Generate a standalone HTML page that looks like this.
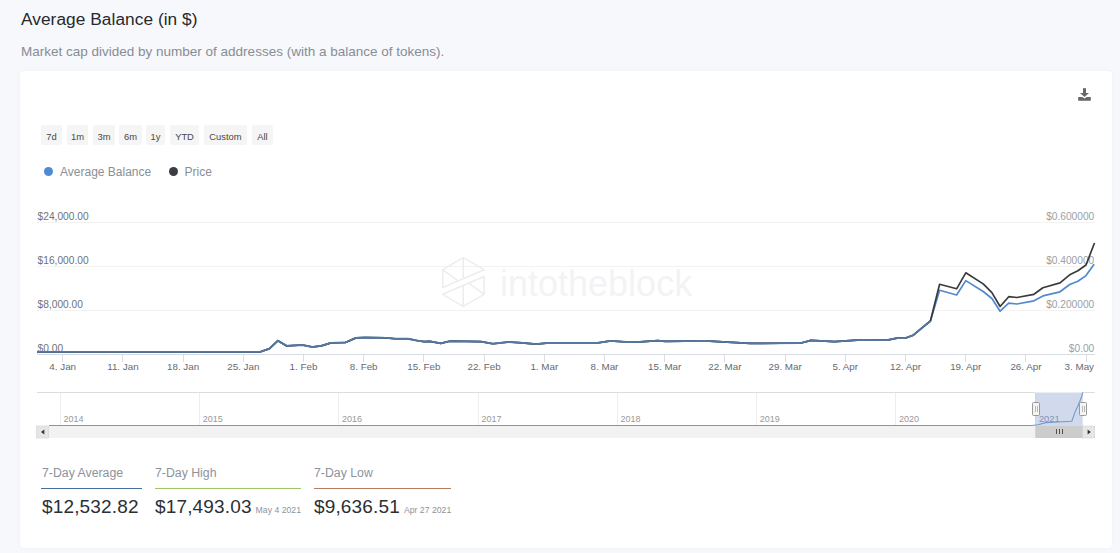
<!DOCTYPE html>
<html><head><meta charset="utf-8">
<style>
html,body{margin:0;padding:0;}
body{width:1120px;height:553px;background:#f7f8fb;position:relative;overflow:hidden;font-family:"Liberation Sans",sans-serif;}
.title{position:absolute;left:21px;top:8.5px;font-size:17.3px;color:#26292d;letter-spacing:0.05px;white-space:nowrap;}
.sub{position:absolute;left:21px;top:44px;font-size:13.5px;color:#878d95;white-space:nowrap;}
.card{position:absolute;left:20px;top:71px;width:1092px;height:477px;background:#fff;border-radius:4px;box-shadow:0 0 4px rgba(0,0,0,0.035);}
svg{position:absolute;left:0;top:0;}
.btn{position:absolute;top:125px;height:18px;padding-top:2px;background:#f5f5f5;border-radius:2px;font-size:9.4px;color:#484848;line-height:20px;text-align:center;}
.leg{position:absolute;top:163.5px;font-size:12px;color:#8a8f96;white-space:nowrap;line-height:16px;}
.dot{position:absolute;width:9px;height:9px;border-radius:50%;}
.stat{position:absolute;top:462px;}
.slab{position:absolute;top:3.5px;font-size:12.3px;color:#8d939b;white-space:nowrap;}
.sline{position:absolute;top:26px;height:1px;}
.sval{position:absolute;top:34px;font-size:19px;color:#2b3035;white-space:nowrap;letter-spacing:0.15px;}
.sdate{font-size:8.7px;color:#8d939b;letter-spacing:0;margin-left:4px;}
</style></head><body>
<div class="title">Average Balance (in $)</div>
<div class="sub">Market cap divided by number of addresses (with a balance of tokens).</div>
<div class="card"></div>
<div class="btn" style="left:41px;width:21px">7d</div>
<div class="btn" style="left:67px;width:21px">1m</div>
<div class="btn" style="left:93px;width:22px">3m</div>
<div class="btn" style="left:119px;width:23px">6m</div>
<div class="btn" style="left:146px;width:19px">1y</div>
<div class="btn" style="left:170px;width:29px">YTD</div>
<div class="btn" style="left:204px;width:43px">Custom</div>
<div class="btn" style="left:252px;width:21px">All</div>
<div class="dot" style="left:43.5px;top:166.5px;background:#4f8ad2"></div>
<div class="leg" style="left:60px">Average Balance</div>
<div class="dot" style="left:168.5px;top:166.5px;background:#3c3d42"></div>
<div class="leg" style="left:184.5px">Price</div>
<svg width="1120" height="553" viewBox="0 0 1120 553" font-family="Liberation Sans, sans-serif">
 <g stroke="#f2f2f2" stroke-width="1" fill="none"><path d="M37 222.5H1094.6M37 266.5H1094.6M37 310.5H1094.6"/></g>
 <g fill="#f0f0f2" stroke="none" opacity="1">
  <text x="500" y="296.3" font-size="36" fill="#f3f3f5">intotheblock</text>
 </g>
 <g fill="none" stroke="#ededef" stroke-width="1.5" stroke-linejoin="round">
  <path d="M442.7 269.7 L463.2 257.7 L484.1 269.7 L442.7 287.5 Z M463.2 257.7 V278.7 M442.7 269.7 L458 280.9 M484.1 294.3 L463.2 306.3 L442.7 294.3 L484.1 276.5 Z M463.2 306.3 V285.3 M484.1 294.3 L468.8 283.1"/>
 </g>
 <path d="M37 354.5H1094.6" stroke="#d8dce3" stroke-width="1"/>
 <path d="M62.5 354V362M122.5 354V362M183.5 354V362M243.5 354V362M303.5 354V362M363.5 354V362M423.5 354V362M484.5 354V362M544.5 354V362M604.5 354V362M664.5 354V362M724.5 354V362M785.5 354V362M845.5 354V362M905.5 354V362M965.5 354V362M1025.5 354V362M1086.5 354V362" stroke="#dadde2" stroke-width="1"/>
 <g font-size="10.2" fill="#6e7278">
  <text x="37.6" y="220">$24,000.00</text>
  <text x="37.6" y="264">$16,000.00</text>
  <text x="37.6" y="308">$8,000.00</text>
  <text x="37.6" y="352">$0.00</text>
 </g>
 <g font-size="10.2" fill="#9aa0a6" text-anchor="end">
  <text x="1094.3" y="220">$0.600000</text>
  <text x="1094.3" y="264">$0.400000</text>
  <text x="1094.3" y="308">$0.200000</text>
  <text x="1094.3" y="352">$0.00</text>
 </g>
 <g font-size="9.8" fill="#666a70">
<text x="62.7" y="369.8" text-anchor="middle">4. Jan</text>
<text x="122.9" y="369.8" text-anchor="middle">11. Jan</text>
<text x="183.1" y="369.8" text-anchor="middle">18. Jan</text>
<text x="243.3" y="369.8" text-anchor="middle">25. Jan</text>
<text x="303.5" y="369.8" text-anchor="middle">1. Feb</text>
<text x="363.7" y="369.8" text-anchor="middle">8. Feb</text>
<text x="423.9" y="369.8" text-anchor="middle">15. Feb</text>
<text x="484.1" y="369.8" text-anchor="middle">22. Feb</text>
<text x="544.3" y="369.8" text-anchor="middle">1. Mar</text>
<text x="604.5" y="369.8" text-anchor="middle">8. Mar</text>
<text x="664.7" y="369.8" text-anchor="middle">15. Mar</text>
<text x="724.9" y="369.8" text-anchor="middle">22. Mar</text>
<text x="785.1" y="369.8" text-anchor="middle">29. Mar</text>
<text x="845.3" y="369.8" text-anchor="middle">5. Apr</text>
<text x="905.5" y="369.8" text-anchor="middle">12. Apr</text>
<text x="965.7" y="369.8" text-anchor="middle">19. Apr</text>
<text x="1025.9" y="369.8" text-anchor="middle">26. Apr</text>
<text x="1094" y="369.8" text-anchor="end">3. May</text>

 </g>
 <polyline points="37,351.8 260.5,351.8 269.5,348.6 277.9,340.7 286.8,345.9 302.5,345 312.3,347 321.25,345.9 331,342.9 345.4,342.5 356,337.9 365,337.5 386.4,337.9 395,338.75 407.9,338.75 416.8,340.5 424,341.6 430,341.4 440.8,343.4 449.6,341.2 481,341.6 492.9,343.75 508.6,342 522.3,342.8 536,344.1 547.9,343 597,343 610.7,340.8 626.5,342 640,341.8 657.7,340.6 665.5,341.4 704.8,340.8 750,343.4 801,343 811,340.4 834.5,341.6 861.2,339.8 887.2,340.1 897,338.2 905.1,338.2 913.3,335.2 921.4,328.4 930.4,321 939.6,290.3 956.6,295 965.8,280.6 983.2,291.5 991.9,298.5 1000.1,311.2 1008.7,303.2 1016.9,304 1033.9,300.8 1042.9,295.9 1060,291.8 1069.7,284.5 1077.9,281.3 1086,275.6 1094.1,264.2" fill="none" stroke="#5189cc" stroke-width="1.7" stroke-linejoin="round"/>
 <polyline points="37,351.8 260.5,351.8 269.5,348.6 277.9,340.7 286.8,345.9 302.5,345 312.3,347 321.25,345.9 331,342.9 345.4,342.5 356,337.9 365,337.5 386.4,337.9 395,338.75 407.9,338.75 416.8,340.5 424,341.6 430,341.4 440.8,343.4 449.6,341.2 481,341.6 492.9,343.75 508.6,342 522.3,342.8 536,344.1 547.9,343 597,343 610.7,340.8 626.5,342 640,341.8 657.7,340.6 665.5,341.4 704.8,340.8 750,343.4 801,343 811,340.4 834.5,341.6 861.2,339.8 887.2,340.1 897,338.2 905.1,338.2 913.3,335.2 921.4,328.4 930.4,321 939.6,284.3 956.6,288.8 965.8,272.8 983.2,283.9 991.9,292.6 1000.1,306.5 1008.7,296.7 1016.9,297.5 1033.9,294.3 1042.9,287.8 1060,282.9 1069.7,274.8 1077.9,270.7 1086,265 1094.5,243" fill="none" stroke="#3a3b3f" stroke-width="1.7" stroke-linejoin="round"/>
 <polyline points="37,351.8 260.5,351.8 269.5,348.6 277.9,340.7 286.8,345.9 302.5,345 312.3,347 321.25,345.9 331,342.9 345.4,342.5 356,337.9 365,337.5 386.4,337.9 395,338.75 407.9,338.75 416.8,340.5 424,341.6 430,341.4 440.8,343.4 449.6,341.2 481,341.6 492.9,343.75 508.6,342 522.3,342.8 536,344.1 547.9,343 597,343 610.7,340.8 626.5,342 640,341.8 657.7,340.6 665.5,341.4 704.8,340.8 750,343.4 801,343 811,340.4 834.5,341.6 861.2,339.8 887.2,340.1 897,338.2 905.1,338.2 913.3,335.2 921.4,328.4 930.4,321" fill="none" stroke="#56789f" stroke-width="1.8" stroke-linejoin="round"/>
 <!-- navigator -->
 <path d="M37 392.5H1035.2M1082.7 392.5H1094.6" stroke="#dcdcdc" stroke-width="1"/>
 <path d="M60.5 393V426M199.5 393V426M338.5 393V426M478.5 393V426M617.5 393V426M756.5 393V426M895.5 393V426M1035.5 393V426" stroke="#eeeeee" stroke-width="1"/>
 <g font-size="9" fill="#999">
<text x="63.6" y="421.8">2014</text>
<text x="202.8" y="421.8">2015</text>
<text x="341.9" y="421.8">2016</text>
<text x="481.5" y="421.8">2017</text>
<text x="620.6" y="421.8">2018</text>
<text x="759.8" y="421.8">2019</text>
<text x="899.0" y="421.8">2020</text>
<text x="1038.9" y="421.8" font-size="9.4" fill="#8c9ab3">2021</text>

 </g>
 <rect x="1035.2" y="392.5" width="47.5" height="33.5" fill="rgba(102,133,194,0.3)"/>
 <polyline points="49,425.5 1031.7,425.5 1038,424.8 1045.8,422.6 1057.7,422 1071.8,421.2 1075,412.1 1078.3,405 1081.6,397 1082.7,392.4" fill="none" stroke="#7399c9" stroke-width="1.1"/>
 <rect x="37" y="426" width="1057.6" height="12" fill="#f2f2f2"/>
 <rect x="1035.2" y="426" width="47.5" height="12" fill="#cccccc"/>
 <rect x="36.5" y="426" width="12" height="12" fill="#e6e6e6" stroke="#cccccc" stroke-width="0.5"/>
 <rect x="1082.7" y="426" width="12" height="12" fill="#e6e6e6" stroke="#cccccc" stroke-width="0.5"/>
 <path d="M44.3 429.5 L41 432 L44.3 434.5 Z" fill="#333"/>
 <path d="M1087.6 429.5 L1090.9 432 L1087.6 434.5 Z" fill="#333"/>
 <path d="M1056.5 429V434M1059.5 429V434M1062.5 429V434" stroke="#444" stroke-width="0.9"/>
 <rect x="1032.5" y="402.5" width="7" height="13" rx="1" fill="#f4f4f4" stroke="#9a9a9a" stroke-width="1"/>
 <path d="M1035.5 406V412M1037.5 406V412" stroke="#aaa" stroke-width="0.8"/>
 <rect x="1079.5" y="402.5" width="7" height="13" rx="1" fill="#f4f4f4" stroke="#9a9a9a" stroke-width="1"/>
 <path d="M1082.5 406V412M1084.5 406V412" stroke="#aaa" stroke-width="0.8"/>
 <!-- download icon -->
 <g fill="#676767">
  <rect x="1083" y="88.2" width="3" height="5.2"/>
  <path d="M1080 93 L1089 93 L1084.5 97 Z"/>
  <path d="M1078.2 97 H1082.3 L1084.5 98.4 L1086.7 97 H1090.8 V100.8 H1078.2 Z"/>
 </g>
</svg>
<div class="stat" style="left:41px">
 <div class="slab" style="left:1px">7-Day Average</div>
 <div class="sline" style="left:0;width:101px;background:#4a6f9e"></div>
 <div class="sval" style="left:1px">$12,532.82</div>
</div>
<div class="stat" style="left:155px">
 <div class="slab" style="left:0">7-Day High</div>
 <div class="sline" style="left:0;width:146px;background:#9cc764"></div>
 <div class="sval" style="left:0">$17,493.03<span class="sdate">May 4 2021</span></div>
</div>
<div class="stat" style="left:314px">
 <div class="slab" style="left:0">7-Day Low</div>
 <div class="sline" style="left:0;width:137px;background:#b87a62"></div>
 <div class="sval" style="left:0">$9,636.51<span class="sdate">Apr 27 2021</span></div>
</div>
</body></html>
